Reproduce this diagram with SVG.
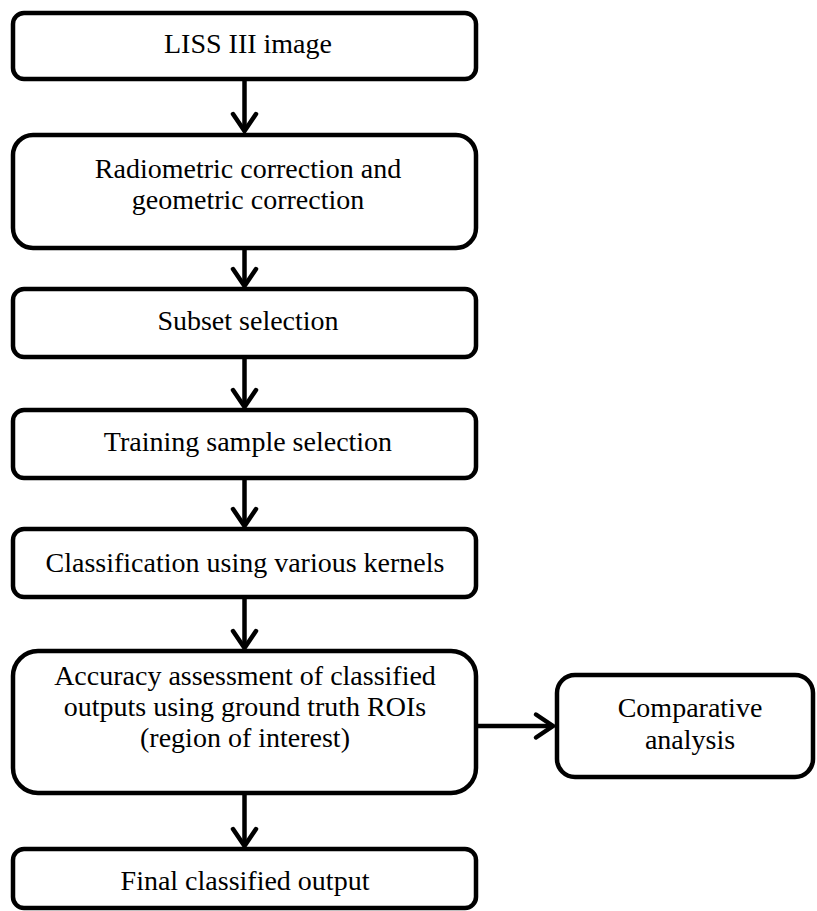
<svg xmlns="http://www.w3.org/2000/svg" width="817" height="911" viewBox="0 0 817 911">
<style>
  .box { fill: #fff; stroke: #000; stroke-width: 4.5; }
  .lbl { font-family: "Liberation Serif", "Times New Roman", serif; font-size: 28px; fill: #000; text-anchor: middle; }
  .conn { fill: none; stroke: #000; stroke-width: 4.5; }
  .head { fill: none; stroke: #000; stroke-width: 4.5; stroke-linecap: round; stroke-linejoin: miter; }
</style>
<rect width="817" height="911" fill="#fff"/>
<g id="connectors">
  <line class="conn" x1="244.5" y1="79" x2="244.5" y2="131"/>
  <polyline class="head" points="233,114 244.5,131 256,114"/>
  <line class="conn" x1="244.5" y1="248" x2="244.5" y2="286"/>
  <polyline class="head" points="233,269 244.5,286 256,269"/>
  <line class="conn" x1="244.5" y1="357" x2="244.5" y2="407"/>
  <polyline class="head" points="233,390 244.5,407 256,390"/>
  <line class="conn" x1="244.5" y1="478" x2="244.5" y2="526"/>
  <polyline class="head" points="233,509 244.5,526 256,509"/>
  <line class="conn" x1="244.5" y1="597" x2="244.5" y2="648"/>
  <polyline class="head" points="233,631 244.5,648 256,631"/>
  <line class="conn" x1="244.5" y1="793" x2="244.5" y2="846"/>
  <polyline class="head" points="233,829 244.5,846 256,829"/>
  <line class="conn" x1="478" y1="726" x2="553" y2="726"/>
  <polyline class="head" points="536,714.5 553,726 536,737.5"/>
</g>
<g id="n1">
  <rect class="box" x="13" y="13" width="463" height="66" rx="11"/>
  <text class="lbl" x="248" y="53">LISS III image</text>
</g>
<g id="n2">
  <rect class="box" x="13" y="135" width="463" height="113" rx="20"/>
  <text class="lbl" x="248" y="178">Radiometric correction and</text>
  <text class="lbl" x="248" y="209">geometric correction</text>
</g>
<g id="n3">
  <rect class="box" x="13" y="289" width="463" height="68" rx="11"/>
  <text class="lbl" x="248" y="330">Subset selection</text>
</g>
<g id="n4">
  <rect class="box" x="13" y="410" width="463" height="68" rx="11"/>
  <text class="lbl" x="248" y="451">Training sample selection</text>
</g>
<g id="n5">
  <rect class="box" x="13" y="529" width="463" height="68" rx="11"/>
  <text class="lbl" x="245" y="572">Classification using various kernels</text>
</g>
<g id="n6">
  <rect class="box" x="13" y="651" width="463" height="142" rx="25"/>
  <text class="lbl" x="245" y="685">Accuracy assessment of classified</text>
  <text class="lbl" x="245" y="716">outputs using ground truth ROIs</text>
  <text class="lbl" x="245" y="747">(region of interest)</text>
</g>
<g id="n7">
  <rect class="box" x="557" y="675" width="256" height="102" rx="18"/>
  <text class="lbl" x="690" y="717">Comparative</text>
  <text class="lbl" x="690" y="749">analysis</text>
</g>
<g id="n8">
  <rect class="box" x="13" y="849" width="463" height="59" rx="11"/>
  <text class="lbl" x="245" y="890">Final classified output</text>
</g>
</svg>
